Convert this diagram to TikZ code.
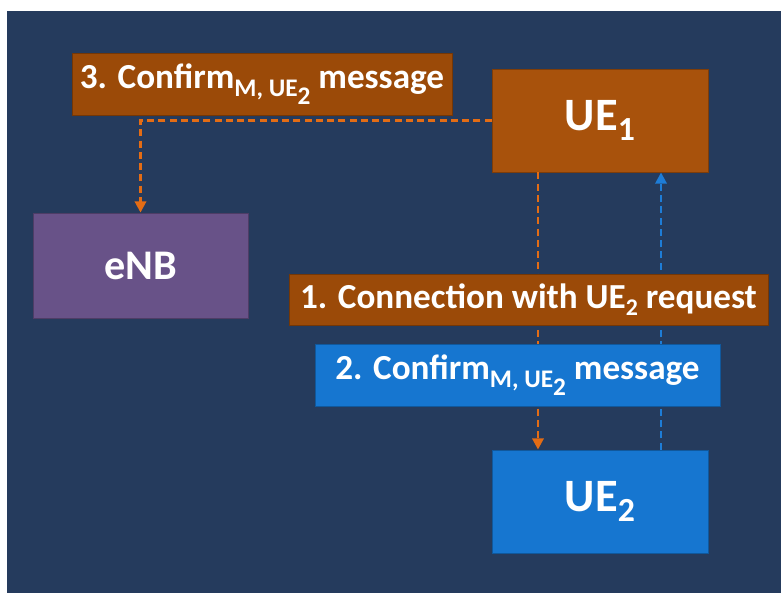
\documentclass[tikz,border=0pt]{standalone}
\usepackage{fontspec}
\setmainfont{Carlito}
\usetikzlibrary{arrows.meta}
\definecolor{bgblue}{RGB}{37,59,93}
\definecolor{ueorange}{RGB}{168,82,12}
\definecolor{lblorange}{RGB}{155,74,8}
\definecolor{arrorange}{RGB}{228,108,20}
\definecolor{ueblue}{RGB}{22,118,208}
\definecolor{arrblue}{RGB}{30,125,215}
\definecolor{enbpurple}{RGB}{104,82,136}
% lowered index in the slide's style
\newcommand{\lowidx}[2]{\raisebox{-#1}{\fontsize{18}{20}\selectfont #2}}
\begin{document}
\begin{tikzpicture}[x=0.025cm,y=-0.025cm,
    box/.style={draw=#1!75!black,fill=#1,line width=0.6pt,inner sep=0pt,
      text=white,font=\bfseries\fontsize{25}{30}\selectfont},
    link/.style={draw=#1,line width=1.9pt,dash pattern=on 5pt off 3pt,
      -{Triangle[length=8pt,width=8pt]}}]
  \useasboundingbox (0,0) rectangle (781,593);
  \fill[bgblue] (7,11) rectangle (781,593);
  % the three stations
  \node[box=ueorange,minimum width=5.4cm,minimum height=2.575cm,
    font=\bfseries\fontsize{33}{38}\selectfont] (ue1) at (600,120.5)
    {UE\raisebox{-6.5pt}{\fontsize{24}{28}\selectfont 1}};
  \node[box=enbpurple,minimum width=5.375cm,minimum height=2.625cm,
    font=\bfseries\fontsize{30}{36}\selectfont] (enb) at (140.5,265.5) {eNB};
  \node[box=ueblue,minimum width=5.4cm,minimum height=2.575cm,
    font=\bfseries\fontsize{33}{38}\selectfont] (ue2) at (600,501.5)
    {UE\raisebox{-6.5pt}{\fontsize{24}{28}\selectfont 2}};
  % messages
  \draw[link=arrorange] (ue1.west) -| (enb.north);
  \draw[link=arrorange] ([xshift=-1.55cm]ue1.south) -- ([xshift=-1.55cm]ue2.north);
  \draw[link=arrblue] ([xshift=1.525cm]ue2.north) -- ([xshift=1.525cm]ue1.south);
  \node[box=lblorange,minimum width=9.5cm,minimum height=1.55cm] (msg3) at (262,84)
    {3. Confirm\lowidx{5.5pt}{M, UE\raisebox{-5.5pt}{2}} message};
  \node[box=lblorange,minimum width=11.975cm,minimum height=1.275cm] (msg1) at (528.5,299.5)
    {1. Connection with UE\raisebox{-5pt}{\fontsize{17}{20}\selectfont 2} request};
  \node[box=ueblue,minimum width=10.125cm,minimum height=1.55cm] (msg2) at (517.5,375)
    {2. Confirm\lowidx{5.5pt}{M, UE\raisebox{-5.5pt}{2}} message};
\end{tikzpicture}
\end{document}
